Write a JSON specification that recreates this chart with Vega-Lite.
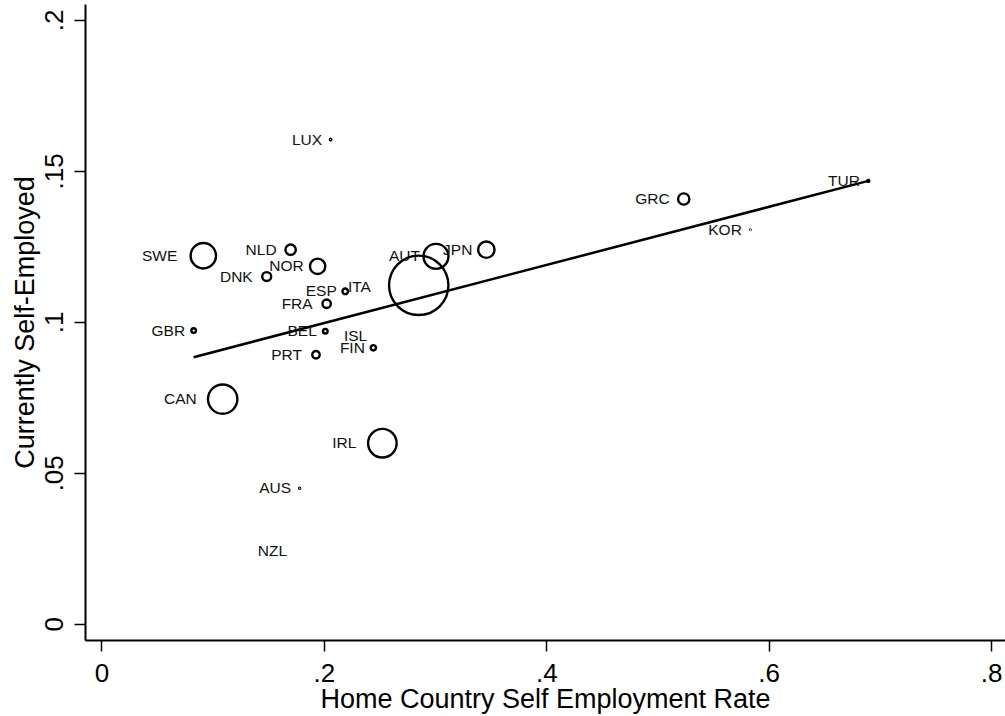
{
  "$schema": "https://vega.github.io/schema/vega-lite/v6.json",
  "width": 920,
  "height": 636,
  "autosize": {"type": "none"},
  "padding": {"left": 85, "top": 4, "right": 0, "bottom": 76},
  "background": "white",
  "config": {
    "view": {"stroke": null},
    "font": "Liberation Sans",
    "axis": {
      "grid": false,
      "domainColor": "black",
      "domainWidth": 2,
      "tickColor": "black",
      "tickWidth": 1.5,
      "tickSize": 11,
      "labelColor": "black",
      "titleColor": "black",
      "labelFont": "Liberation Sans",
      "titleFont": "Liberation Sans",
      "labelFontSize": 26,
      "titleFontSize": 27,
      "titleFontWeight": "normal",
      "labelFlush": false,
      "labelOverlap": false
    }
  },
  "datasets": {
    "pts": [
      {"c": "LUX", "x": 0.2061, "y": 0.1604, "w": 0.5},
      {"c": "TUR", "x": 0.6896, "y": 0.1467, "w": 1},
      {"c": "GRC", "x": 0.5236, "y": 0.1407, "w": 32},
      {"c": "KOR", "x": 0.5835, "y": 0.1305, "w": 0.1},
      {"c": "SWE", "x": 0.0916, "y": 0.1219, "w": 161},
      {"c": "NLD", "x": 0.1701, "y": 0.1239, "w": 27},
      {"c": "NOR", "x": 0.1944, "y": 0.1184, "w": 59},
      {"c": "DNK", "x": 0.1486, "y": 0.115, "w": 20},
      {"c": "AUT", "x": 0.3008, "y": 0.1217, "w": 156},
      {"c": "JPN", "x": 0.3461, "y": 0.1239, "w": 67},
      {"c": "", "x": 0.2853, "y": 0.1121, "w": 882},
      {"c": "ESP", "x": 0.2192, "y": 0.1101, "w": 7.8},
      {"c": "ITA", "x": 0.2499, "y": 0.1117, "w": 0},
      {"c": "FRA", "x": 0.2025, "y": 0.106, "w": 17.6},
      {"c": "GBR", "x": 0.0829, "y": 0.0971, "w": 5.3},
      {"c": "BEL", "x": 0.2013, "y": 0.0969, "w": 5.3},
      {"c": "ISL", "x": 0.2466, "y": 0.0952, "w": 0},
      {"c": "FIN", "x": 0.2445, "y": 0.0914, "w": 7.3},
      {"c": "PRT", "x": 0.1929, "y": 0.0891, "w": 13.7},
      {"c": "CAN", "x": 0.109, "y": 0.0744, "w": 216},
      {"c": "IRL", "x": 0.2526, "y": 0.0598, "w": 204},
      {"c": "AUS", "x": 0.1782, "y": 0.0449, "w": 0.3},
      {"c": "NZL", "x": 0.1746, "y": 0.0242, "w": 0}
    ],
    "fit": [
      {"x": 0.0829, "y": 0.0883},
      {"x": 0.6896, "y": 0.1467}
    ]
  },
  "encoding": {
    "x": {
      "field": "x",
      "type": "quantitative",
      "scale": {"domain": [-0.0148, 0.8125], "nice": false, "zero": false},
      "axis": {
        "values": [0, 0.2, 0.4, 0.6, 0.8],
        "labelExpr": "replace(format(datum.value, '.2~f'), regexp('^0[.]'), '.')",
        "title": "Home Country Self Employment Rate",
        "labelPadding": 9.5,
        "titlePadding": 0
      }
    },
    "y": {
      "field": "y",
      "type": "quantitative",
      "scale": {"domain": [-0.0054, 0.2053], "nice": false, "zero": false},
      "axis": {
        "values": [0, 0.05, 0.1, 0.15, 0.2],
        "labelExpr": "replace(format(datum.value, '.2~f'), regexp('^0[.]'), '.')",
        "labelAngle": -90,
        "labelAlign": "center",
        "labelBaseline": "bottom",
        "labelPadding": 6.5,
        "title": "Currently Self-Employed",
        "titlePadding": 2
      }
    }
  },
  "layer": [
    {
      "data": {"name": "fit"},
      "mark": {"type": "line", "color": "black", "strokeWidth": 2.5},
      "encoding": {}
    },
    {
      "data": {"name": "pts"},
      "transform": [{"filter": "datum.w > 0"}],
      "mark": {"type": "point", "shape": "circle", "filled": false, "stroke": "black", "strokeWidth": 2.4, "opacity": 1},
      "encoding": {
        "size": {"field": "w", "type": "quantitative", "scale": {"type": "linear", "domain": [0, 1000], "range": [0, 4000]}, "legend": null}
      }
    },
    {
      "data": {"name": "pts"},
      "transform": [{"filter": "datum.w < 10 && datum.c != ''"}],
      "mark": {"type": "text", "align": "right", "baseline": "middle", "dx": -8.5, "fontSize": 15.5, "color": "#111111"},
      "encoding": {"text": {"field": "c"}}
    },
    {
      "data": {"name": "pts"},
      "transform": [{"filter": "datum.w >= 10 && datum.w < 100"}],
      "mark": {"type": "text", "align": "right", "baseline": "middle", "dx": -14, "fontSize": 15.5, "color": "#111111"},
      "encoding": {"text": {"field": "c"}}
    },
    {
      "data": {"name": "pts"},
      "transform": [{"filter": "datum.w >= 100 && datum.c != 'AUT' && datum.c != ''"}],
      "mark": {"type": "text", "align": "right", "baseline": "middle", "dx": -26, "fontSize": 15.5, "color": "#111111"},
      "encoding": {"text": {"field": "c"}}
    },
    {
      "data": {"name": "pts"},
      "transform": [{"filter": "datum.c == 'AUT'"}],
      "mark": {"type": "text", "align": "right", "baseline": "middle", "dx": -16, "fontSize": 15.5, "color": "#111111"},
      "encoding": {"text": {"field": "c"}}
    }
  ]
}
